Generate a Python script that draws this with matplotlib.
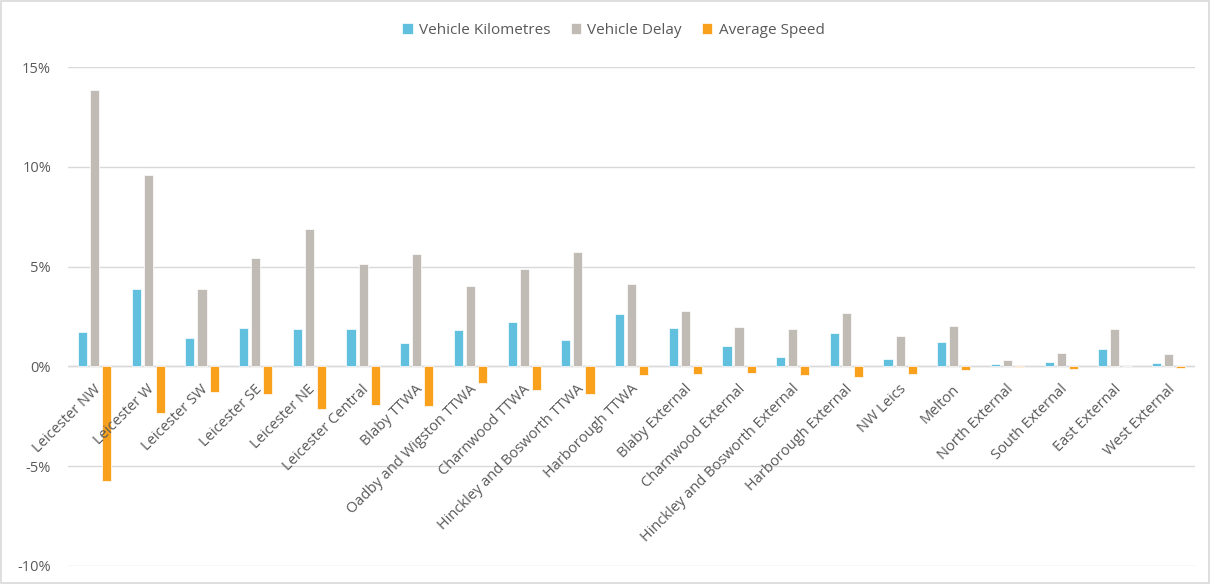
import matplotlib.pyplot as plt
from matplotlib.patches import Rectangle
import numpy as np

plt.rcParams['font.family'] = ['Open Sans', 'DejaVu Sans']

# zones along the x axis
zones = ['Leicester NW', 'Leicester W', 'Leicester SW', 'Leicester SE', 'Leicester NE',
         'Leicester Central', 'Blaby TTWA', 'Oadby and Wigston TTWA', 'Charnwood TTWA',
         'Hinckley and Bosworth TTWA', 'Harborough TTWA', 'Blaby External',
         'Charnwood External', 'Hinckley and Bosworth External', 'Harborough External',
         'NW Leics', 'Melton', 'North External', 'South External', 'East External',
         'West External']

# percentage change per zone
veh_km = [1.72, 3.86, 1.40, 1.95, 1.89, 1.89, 1.18, 1.82, 2.21, 1.31, 2.62, 1.95,
          1.03, 0.49, 1.67, 0.39, 1.22, 0.13, 0.22, 0.86, 0.17]
veh_delay = [13.86, 9.59, 3.86, 5.45, 6.89, 5.13, 5.62, 4.03, 4.87, 5.71, 4.12, 2.77,
             2.00, 1.89, 2.68, 1.54, 2.04, 0.30, 0.67, 1.89, 0.60]
avg_speed = [-5.73, -2.32, -1.27, -1.40, -2.13, -1.91, -1.99, -0.84, -1.18, -1.40, -0.45,
             -0.36, -0.32, -0.45, -0.51, -0.36, -0.17, -0.02, -0.13, 0.0, -0.07]

y_ticks = [-10, -5, 0, 5, 10, 15]

fig = plt.figure(figsize=(12.1, 5.84), dpi=100)
ax = fig.add_axes([0.056, 0.031, 0.932, 0.854])

x = np.arange(len(zones))
w = 0.17
off = 0.225
ax.bar(x - off, veh_km, w, color='#62C0DF', edgecolor='white', linewidth=0.5, label='Vehicle Kilometres', zorder=3)
ax.bar(x, veh_delay, w, color='#C0BBB5', edgecolor='white', linewidth=0.5, label='Vehicle Delay', zorder=3)
ax.bar(x + off, avg_speed, w, color='#F9A11D', edgecolor='white', linewidth=0.5, label='Average Speed', zorder=3)

ax.set_xlim(-0.5, len(zones) - 0.5)
ax.set_ylim(-10, 15)
ax.set_yticks(y_ticks)
ax.set_yticklabels([str(t) + '%' for t in y_ticks], fontsize=10.5, color='#595959')
ax.yaxis.grid(True, color='#D9D9D9', linewidth=1, zorder=0)
ax.axhline(0, color='#D9D9D9', linewidth=1, zorder=2)
ax.tick_params(axis='y', length=0, pad=12)
ax.set_xticks([])
for s in ax.spines.values():
    s.set_visible(False)

for i, name in enumerate(zones):
    ax.annotate(name, xy=(i, 0), xytext=(-1, -11), textcoords='offset points',
                rotation=45, ha='right', va='top', rotation_mode='anchor',
                fontsize=10.5, color='#595959')

fig.legend(loc='center', bbox_to_anchor=(0.507, 0.948), ncol=3, frameon=False,
           fontsize=11, handlelength=0.7, handleheight=0.7, handletextpad=0.4,
           columnspacing=1.3, labelcolor='#595959')

fig.patches.append(Rectangle((0.001, 0.001), 0.998, 0.997, transform=fig.transFigure,
                             fill=False, edgecolor='#D9D9D9', linewidth=1.2))

fig.savefig('out.png', dpi=100)
